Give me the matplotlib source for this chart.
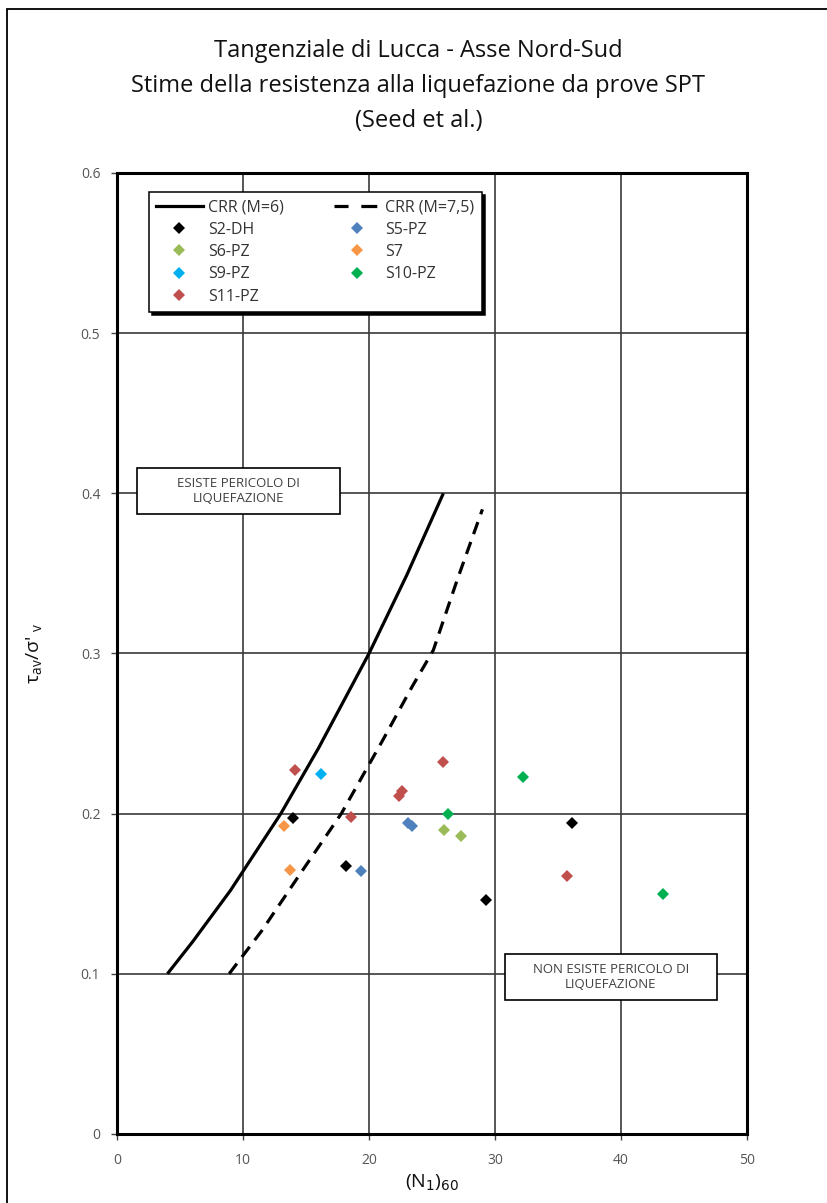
import matplotlib
matplotlib.use("Agg")
import matplotlib.pyplot as plt
from matplotlib.lines import Line2D
from matplotlib.patches import Rectangle

# CRR curves (Seed et al.)
crr6_n = [4.0, 6.0, 9.0, 10.0, 13.0, 16.0, 20.0, 23.0, 25.9]
crr6_csr = [0.100, 0.120, 0.152, 0.164, 0.200, 0.241, 0.300, 0.349, 0.400]
crr75_n = [8.9, 11.5, 14.5, 17.8, 21.1, 23.4, 25.1, 27.0, 29.0]
crr75_csr = [0.100, 0.127, 0.162, 0.200, 0.246, 0.279, 0.302, 0.346, 0.390]

# SPT points per borehole
series_names = ["S2-DH", "S5-PZ", "S6-PZ", "S7", "S9-PZ", "S10-PZ", "S11-PZ"]
series_colors = ["#000000", "#4F81BD", "#9BBB59", "#F79646", "#00B0F0", "#00B050", "#C0504D"]
s2_n = [14.0, 18.2, 29.3, 36.1]
s2_csr = [0.197, 0.167, 0.146, 0.194]
s5_n = [23.1, 23.4, 19.4]
s5_csr = [0.194, 0.192, 0.164]
s6_n = [25.95, 27.3]
s6_csr = [0.190, 0.186]
s7_n = [13.25, 13.7]
s7_csr = [0.192, 0.165]
s9_n = [16.2]
s9_csr = [0.225]
s10_n = [26.3, 32.2, 43.3]
s10_csr = [0.200, 0.223, 0.150]
s11_n = [14.1, 25.9, 22.65, 22.4, 18.6, 35.7]
s11_csr = [0.227, 0.232, 0.214, 0.211, 0.198, 0.161]
series_n = [s2_n, s5_n, s6_n, s7_n, s9_n, s10_n, s11_n]
series_csr = [s2_csr, s5_csr, s6_csr, s7_csr, s9_csr, s10_csr, s11_csr]

x_ticks = [0, 10, 20, 30, 40, 50]
y_ticks = [0, 0.1, 0.2, 0.3, 0.4, 0.5, 0.6]
y_ticklabels = ["0", "0.1", "0.2", "0.3", "0.4", "0.5", "0.6"]

title_lines = ["Tangenziale di Lucca - Asse Nord-Sud",
               "Stime della resistenza alla liquefazione da prove SPT",
               "(Seed et al.)"]

plt.rcParams['font.family'] = ['Open Sans', 'DejaVu Sans']
plt.rcParams['mathtext.fontset'] = 'dejavusans'

fig = plt.figure(figsize=(8.27, 12.03), dpi=100)
ax = fig.add_axes([0.1415, 0.0574, 0.7618, 0.7988])

# outer chart frame (only left and top edges visible)
fig.patches.append(Rectangle((7 / 827, -0.05), 1.2, 1 - 9 / 1203 + 0.05,
                             transform=fig.transFigure, fill=False,
                             edgecolor='black', lw=1.3))

for i, line in enumerate(title_lines):
    fig.text(0.506, 1 - (51 + 35 * i) / 1203, line, ha='center', va='center',
             fontsize=17, color='#111111')

ax.plot(crr6_n, crr6_csr, color='black', lw=2.3, solid_capstyle='butt', zorder=3)
ax.plot(crr75_n, crr75_csr, color='black', lw=2.3, linestyle=(0, (4, 2.6)), zorder=3)

for name, col, xs, ys in zip(series_names, series_colors, series_n, series_csr):
    ax.plot(xs, ys, linestyle='none', marker='D', markersize=6, color=col,
            markeredgewidth=0, zorder=4)

ax.set_xlim(0, 50)
ax.set_ylim(0, 0.6)
ax.set_xticks(x_ticks)
ax.set_yticks(y_ticks)
ax.set_yticklabels(y_ticklabels)
ax.grid(True, color='#3a3a3a', lw=1.2)
ax.set_axisbelow(True)
for sp in ax.spines.values():
    sp.set_linewidth(2.2)
    sp.set_color('black')
ax.tick_params(direction='out', length=4, width=1, color='#444444',
               labelsize=10, labelcolor='#555555', pad=8)
ax.tick_params(axis='x', pad=10)

ax.set_xlabel(r'(N$_1$)$_{60}$', fontsize=14, labelpad=3, color='#111111')
ax.set_ylabel(r"τ$_\mathregular{av}$/σ' $_\mathregular{v}$", fontsize=14, labelpad=26,
              color='#111111')

# region boxes
ax.add_patch(Rectangle((1.6, 0.387), 16.1, 0.0287, facecolor='white',
                       edgecolor='black', lw=1.2, zorder=5))
ax.text(9.65, 0.4013, "ESISTE PERICOLO DI\nLIQUEFAZIONE", ha='center', va='center',
        fontsize=9.5, color='#404040', linespacing=1.25, zorder=6)
ax.add_patch(Rectangle((30.8, 0.0836), 16.8, 0.0288, facecolor='white',
                       edgecolor='black', lw=1.2, zorder=5))
ax.text(39.2, 0.098, "NON ESISTE PERICOLO DI\nLIQUEFAZIONE", ha='center', va='center',
        fontsize=9.5, color='#404040', linespacing=1.25, zorder=6)

# legend, filled column-wise
def mk(col):
    return Line2D([], [], linestyle='none', marker='D', markersize=6, color=col,
                  markeredgewidth=0)

handles = [Line2D([], [], color='black', lw=2.3),
           mk(series_colors[0]), mk(series_colors[2]), mk(series_colors[4]), mk(series_colors[6]),
           Line2D([], [], color='black', lw=2.3, linestyle=(0.6, (5, 4))),
           mk(series_colors[1]), mk(series_colors[3]), mk(series_colors[5])]
labels = ["CRR (M=6)", series_names[0], series_names[2], series_names[4], series_names[6],
          "CRR (M=7,5)", series_names[1], series_names[3], series_names[5]]
leg = ax.legend(handles, labels, ncol=2, loc='upper left', bbox_to_anchor=(0.0508, 0.9802),
                borderaxespad=0, fontsize=11.5, handlelength=2.9, handletextpad=0.35,
                columnspacing=3.1, labelspacing=0.4, borderpad=0.45,
                frameon=True, fancybox=False, edgecolor='black',
                shadow={'color': 'black', 'alpha': 1, 'ox': 2.5, 'oy': -2.5})
leg.get_frame().set_linewidth(1.1)
for t in leg.get_texts():
    t.set_color('#333333')
leg.set_zorder(7)

fig.savefig("out.png", dpi=100)
